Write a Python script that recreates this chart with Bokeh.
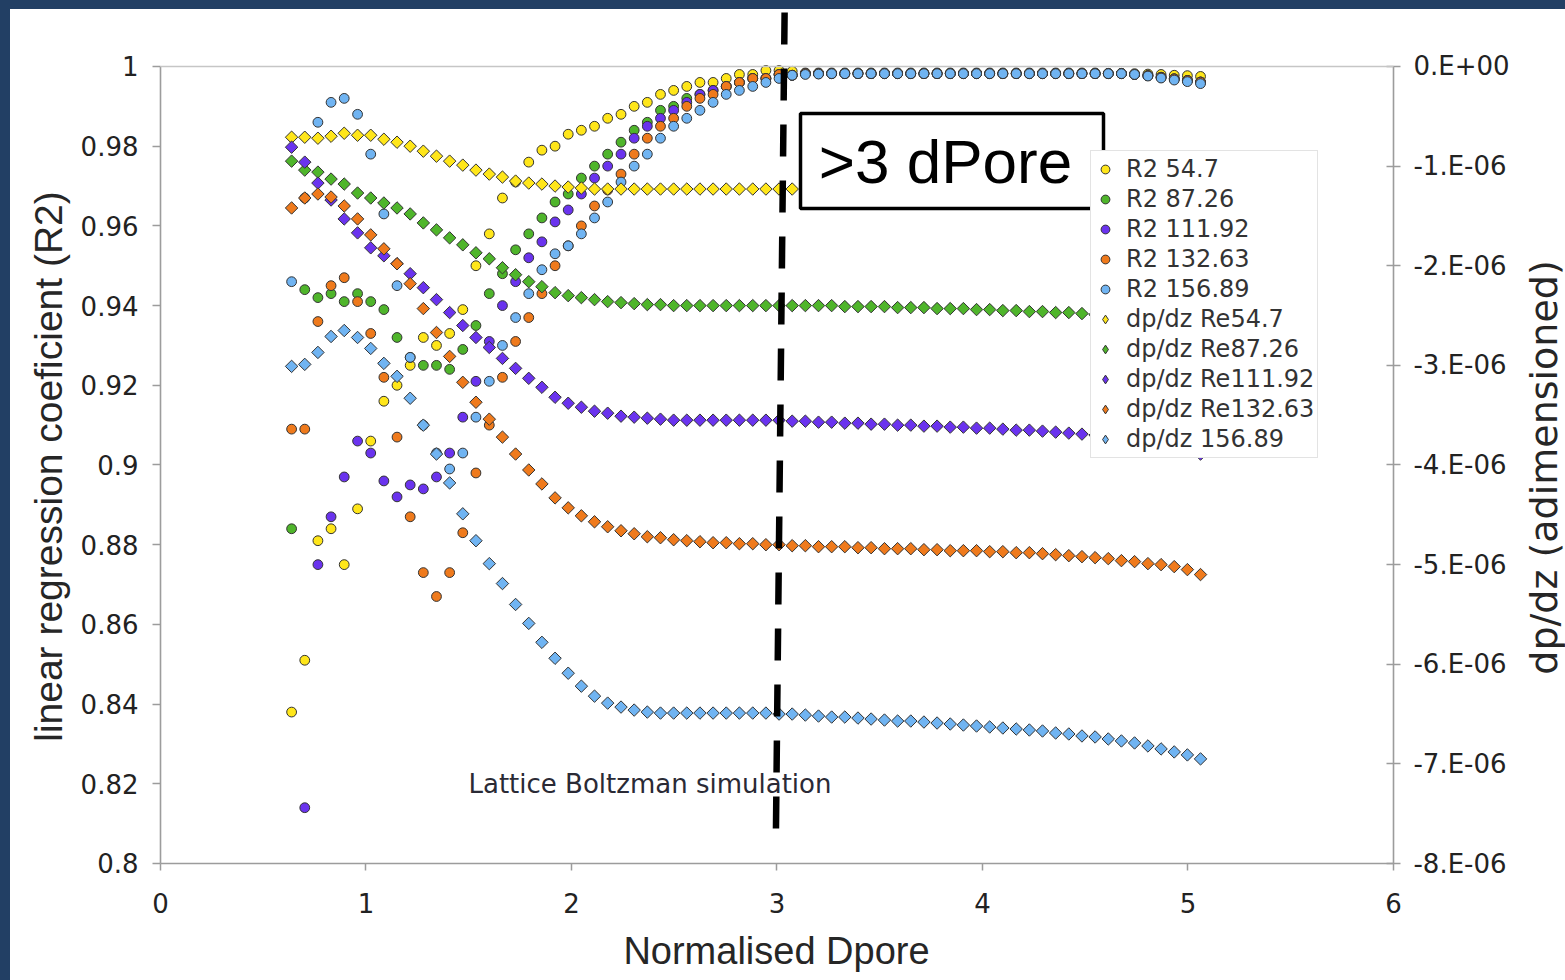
import numpy as np
from bokeh.plotting import figure
from bokeh.models import (Range1d, LinearAxis, FixedTicker, CustomJSTickFormatter,
                          Legend, LegendItem, Label, BoxAnnotation, Arrow, Spacer)
from bokeh.layouts import column, row
from bokeh.embed import file_html
from bokeh.resources import INLINE

nan = float("nan")

# ---------------- data ----------------
x_dpore = [0.638, 0.702, 0.766, 0.830, 0.894, 0.959, 1.023, 1.087, 1.151, 1.215,
           1.279, 1.343, 1.407, 1.471, 1.535, 1.600, 1.664, 1.728, 1.792, 1.856,
           1.920, 1.984, 2.048, 2.112, 2.176, 2.241, 2.305, 2.369, 2.433, 2.497,
           2.561, 2.625, 2.689, 2.753, 2.817, 2.882, 2.946, 3.010, 3.074, 3.138,
           3.202, 3.266, 3.330, 3.394, 3.458, 3.523, 3.587, 3.651, 3.715, 3.779,
           3.843, 3.907, 3.971, 4.035, 4.099, 4.164, 4.228, 4.292, 4.356, 4.420,
           4.484, 4.548, 4.612, 4.676, 4.740, 4.805, 4.869, 4.933, 4.997, 5.061]

# linear regression coefficient (left axis)
r2_re54_7 = [0.838, 0.851, 0.881, 0.884, 0.875, 0.889, 0.906, 0.916, 0.920, 0.925,
             0.932, 0.930, 0.933, 0.939, 0.950, 0.958, 0.967, 0.971, 0.976, 0.979,
             0.980, 0.983, 0.984, 0.985, 0.987, 0.988, 0.990, 0.991, 0.993, 0.994,
             0.995, 0.996, 0.996, 0.997, 0.998, 0.998, 0.999, 0.999, 0.9988, 0.9984,
             0.9984, 0.9984, 0.9984, 0.9984, 0.9984, 0.9984, 0.9984, 0.9984, 0.9984, 0.9984,
             0.9984, 0.9984, 0.9984, 0.9984, 0.9984, 0.9984, 0.9984, 0.9984, 0.9984, 0.9984,
             0.9984, 0.9984, 0.9983, 0.9983, 0.9982, 0.9981, 0.9980, 0.9978, 0.9977, 0.9975]
r2_re87_26 = [0.884, 0.944, 0.942, 0.943, 0.941, 0.943, 0.941, 0.939, 0.932, 0.927,
              0.925, 0.925, 0.924, 0.929, 0.935, 0.943, 0.948, 0.954, 0.958, 0.962,
              0.966, 0.968, 0.972, 0.975, 0.978, 0.981, 0.984, 0.986, 0.989, 0.990,
              0.992, 0.993, 0.994, 0.995, 0.996, 0.997, 0.997, 0.998, 0.9978, 0.9982,
              0.9982, 0.9982, 0.9982, 0.9982, 0.9982, 0.9982, 0.9982, 0.9982, 0.9982, 0.9982,
              0.9982, 0.9982, 0.9982, 0.9982, 0.9982, 0.9982, 0.9982, 0.9982, 0.9982, 0.9982,
              0.9982, 0.9982, 0.9982, 0.9982, 0.9980, 0.9977, 0.9973, 0.9969, 0.9965, 0.9961]
r2_re111_92 = [nan, 0.814, 0.875, 0.887, 0.897, 0.906, 0.903, 0.896, 0.892, 0.895,
               0.894, 0.897, 0.903, 0.912, 0.921, 0.931, 0.940, 0.946, 0.952, 0.956,
               0.961, 0.964, 0.968, 0.972, 0.975, 0.978, 0.982, 0.985, 0.987, 0.989,
               0.991, 0.993, 0.994, 0.995, 0.996, 0.997, 0.997, 0.998, 0.9978, 0.9982,
               0.9982, 0.9982, 0.9982, 0.9982, 0.9982, 0.9982, 0.9982, 0.9982, 0.9982, 0.9982,
               0.9982, 0.9982, 0.9982, 0.9982, 0.9982, 0.9982, 0.9982, 0.9982, 0.9982, 0.9982,
               0.9982, 0.9982, 0.9982, 0.9982, 0.9980, 0.9977, 0.9973, 0.9969, 0.9965, 0.9961]
r2_re132_63 = [0.909, 0.909, 0.936, 0.945, 0.947, 0.941, 0.933, 0.922, 0.907, 0.887,
               0.873, 0.867, 0.873, 0.883, 0.898, 0.910, 0.922, 0.931, 0.937, 0.943,
               0.950, 0.955, 0.960, 0.965, 0.969, 0.973, 0.978, 0.982, 0.985, 0.987,
               0.990, 0.992, 0.993, 0.995, 0.996, 0.997, 0.997, 0.998, 0.9978, 0.9982,
               0.9982, 0.9982, 0.9982, 0.9982, 0.9982, 0.9982, 0.9982, 0.9982, 0.9982, 0.9982,
               0.9982, 0.9982, 0.9982, 0.9982, 0.9982, 0.9982, 0.9982, 0.9982, 0.9982, 0.9982,
               0.9982, 0.9982, 0.9982, 0.9982, 0.9980, 0.9977, 0.9973, 0.9969, 0.9965, 0.9961]
r2_re156_89 = [0.946, 0.967, 0.986, 0.991, 0.992, 0.988, 0.978, 0.963, 0.945, 0.927,
               0.910, 0.903, 0.899, 0.903, 0.912, 0.921, 0.930, 0.937, 0.943, 0.949,
               0.953, 0.955, 0.958, 0.962, 0.966, 0.971, 0.975, 0.978, 0.982, 0.985,
               0.987, 0.989, 0.991, 0.993, 0.994, 0.995, 0.996, 0.997, 0.9978, 0.9980,
               0.9981, 0.9982, 0.9982, 0.9982, 0.9982, 0.9982, 0.9982, 0.9982, 0.9982, 0.9982,
               0.9982, 0.9982, 0.9982, 0.9982, 0.9982, 0.9982, 0.9982, 0.9982, 0.9982, 0.9982,
               0.9982, 0.9982, 0.9982, 0.9982, 0.9980, 0.9976, 0.9971, 0.9966, 0.9962, 0.9957]

# dp/dz (right axis), in units of 1e-6
dpdz_re54_7 = [-0.71, -0.71, -0.72, -0.70, -0.67, -0.69, -0.69, -0.73, -0.76, -0.80,
               -0.85, -0.90, -0.95, -0.99, -1.04, -1.08, -1.11, -1.15, -1.17, -1.18,
               -1.20, -1.21, -1.22, -1.23, -1.23, -1.23, -1.23, -1.23, -1.23, -1.23,
               -1.23, -1.23, -1.23, -1.23, -1.23, -1.23, -1.23, -1.23, -1.23, -1.23,
               -1.23, -1.23, -1.23, -1.23, -1.24, -1.24, -1.24, -1.24, -1.24, -1.24,
               -1.24, -1.25, -1.25, -1.25, -1.25, -1.25, -1.26, -1.26, -1.26, -1.26,
               -1.27, -1.27, -1.28, -1.28, -1.29, -1.30, -1.31, -1.32, -1.33, -1.35]
dpdz_re87_26 = [-0.95, -1.04, -1.06, -1.13, -1.18, -1.27, -1.32, -1.37, -1.42, -1.48,
                -1.57, -1.64, -1.72, -1.79, -1.87, -1.93, -2.02, -2.09, -2.16, -2.21,
                -2.27, -2.30, -2.32, -2.34, -2.36, -2.37, -2.38, -2.39, -2.39, -2.40,
                -2.40, -2.40, -2.40, -2.40, -2.40, -2.40, -2.40, -2.40, -2.40, -2.40,
                -2.40, -2.40, -2.41, -2.41, -2.41, -2.41, -2.42, -2.42, -2.42, -2.43,
                -2.43, -2.43, -2.44, -2.44, -2.45, -2.45, -2.46, -2.46, -2.47, -2.47,
                -2.48, -2.49, -2.50, -2.51, -2.52, -2.54, -2.56, -2.58, -2.60, -2.63]
dpdz_re111_92 = [-0.81, -0.96, -1.17, -1.34, -1.53, -1.67, -1.82, -1.90, -1.98, -2.08,
                 -2.22, -2.34, -2.47, -2.60, -2.72, -2.82, -2.93, -3.03, -3.13, -3.22,
                 -3.32, -3.38, -3.42, -3.46, -3.48, -3.51, -3.52, -3.53, -3.54, -3.55,
                 -3.55, -3.55, -3.55, -3.55, -3.55, -3.55, -3.55, -3.55, -3.56, -3.56,
                 -3.57, -3.57, -3.58, -3.58, -3.59, -3.59, -3.60, -3.60, -3.61, -3.61,
                 -3.62, -3.62, -3.63, -3.63, -3.64, -3.65, -3.65, -3.66, -3.67, -3.68,
                 -3.69, -3.70, -3.71, -3.73, -3.75, -3.77, -3.79, -3.82, -3.85, -3.89]
dpdz_re132_63 = [-1.42, -1.32, -1.28, -1.31, -1.40, -1.53, -1.69, -1.83, -1.98, -2.18,
                 -2.43, -2.67, -2.91, -3.17, -3.37, -3.54, -3.72, -3.89, -4.05, -4.19,
                 -4.33, -4.43, -4.51, -4.57, -4.62, -4.66, -4.69, -4.72, -4.73, -4.75,
                 -4.76, -4.77, -4.78, -4.78, -4.79, -4.79, -4.80, -4.80, -4.81, -4.81,
                 -4.82, -4.82, -4.82, -4.83, -4.83, -4.84, -4.84, -4.84, -4.85, -4.85,
                 -4.86, -4.86, -4.86, -4.87, -4.87, -4.88, -4.88, -4.89, -4.90, -4.91,
                 -4.92, -4.93, -4.94, -4.96, -4.97, -4.99, -5.00, -5.02, -5.05, -5.10]
dpdz_re156_89 = [-3.01, -2.99, -2.87, -2.71, -2.65, -2.72, -2.83, -2.98, -3.11, -3.33,
                 -3.60, -3.89, -4.18, -4.49, -4.76, -4.99, -5.19, -5.40, -5.59, -5.78,
                 -5.94, -6.09, -6.22, -6.32, -6.39, -6.43, -6.46, -6.48, -6.49, -6.49,
                 -6.49, -6.49, -6.49, -6.49, -6.49, -6.49, -6.49, -6.50, -6.50, -6.51,
                 -6.52, -6.53, -6.53, -6.54, -6.55, -6.56, -6.57, -6.57, -6.58, -6.59,
                 -6.60, -6.61, -6.62, -6.63, -6.64, -6.65, -6.66, -6.67, -6.69, -6.70,
                 -6.72, -6.73, -6.75, -6.77, -6.79, -6.82, -6.85, -6.88, -6.91, -6.95]

r2_labels = ["R2 54.7", "R2 87.26", "R2 111.92", "R2 132.63", "R2 156.89"]
dpdz_labels = ["dp/dz Re54.7", "dp/dz Re87.26", "dp/dz Re111.92", "dp/dz Re132.63", "dp/dz 156.89"]
series_colors = ["#FFE61A", "#4FB52B", "#6A33EE", "#EF7A1C", "#70B4F2"]

x_ticks = [0, 1, 2, 3, 4, 5, 6]
r2_ticks = [0.8, 0.82, 0.84, 0.86, 0.88, 0.9, 0.92, 0.94, 0.96, 0.98, 1.0]
dpdz_ticks = [-8e-6, -7e-6, -6e-6, -5e-6, -4e-6, -3e-6, -2e-6, -1e-6, 0.0]
threshold_dpore = 3.0

# ---------------- figure ----------------
# The frame covers the whole white slide area; all three axes are pinned at the ends of the
# value ranges, so the dashed marker can pass above the axes and no tick label or title is
# clipped by the frame.
X_MIN, X_MAX = 0.0, 6.0
X_LOW, X_EDGE = -0.72993, 6.837
R2_MIN, R2_MAX = 0.8, 1.0
R2_LOW, R2_TOP = 0.77064, 1.01405
DP_MIN, DP_MAX = -8e-6, 0.0
DP_LOW, DP_TOP = -9.1744e-6, 0.5621e-6
W, H = 1555, 971
p = figure(width=W, height=H, x_range=Range1d(X_LOW, X_EDGE), y_range=Range1d(R2_LOW, R2_TOP),
           output_backend="svg", toolbar_location=None, title=None,
           min_border_left=0, min_border_right=0, min_border_top=1, min_border_bottom=0)
p.xgrid.visible = False
p.ygrid.visible = False
p.background_fill_color = "white"
p.border_fill_color = "white"
p.outline_line_color = None
p.extra_y_ranges = {"dpdz": Range1d(DP_LOW, DP_TOP)}

p.xaxis[0].fixed_location = R2_MIN
p.yaxis[0].fixed_location = X_MIN
right_axis = LinearAxis(y_range_name="dpdz", fixed_location=X_MAX)
p.add_layout(right_axis, "right")

axis_grey = "#9c9c9c"
tick_font = "DejaVu Sans"
title_color = "#262626"
for ax in [p.xaxis[0], p.yaxis[0], right_axis]:
    ax.axis_line_color = None
    ax.major_tick_line_color = axis_grey
    ax.major_tick_line_width = 1.5
    ax.minor_tick_line_color = None
    ax.major_label_text_font = tick_font
    ax.major_label_text_font_size = "26px"
    ax.major_label_text_color = "#222222"

p.xaxis.ticker = FixedTicker(ticks=x_ticks)
p.xaxis.formatter = CustomJSTickFormatter(code="return tick.toFixed(0);")
p.xaxis.major_tick_out = 7
p.xaxis.major_tick_in = 0
p.xaxis.major_label_standoff = 23

p.yaxis[0].ticker = FixedTicker(ticks=r2_ticks)
p.yaxis[0].formatter = CustomJSTickFormatter(code="return String(parseFloat(tick.toFixed(2)));")
p.yaxis[0].major_tick_out = 8
p.yaxis[0].major_tick_in = 0
p.yaxis[0].major_label_standoff = 14

right_axis.ticker = FixedTicker(ticks=dpdz_ticks)
right_axis.formatter = CustomJSTickFormatter(
    code="const n = Math.round(-tick*1e6); return n == 0 ? '0.E+00' : '-' + n + '.E-06';")
right_axis.major_tick_out = 7
right_axis.major_tick_in = 7
right_axis.major_label_standoff = 13

# axis titles
p.add_layout(Label(x=38, y=514, x_units="screen", y_units="screen",
                   text="linear regression coeficient (R2)", angle=np.pi / 2,
                   text_font="Liberation Sans", text_font_size="39px", text_color=title_color,
                   text_align="center", text_baseline="middle"))
p.add_layout(Label(x=766, y=30, x_units="screen", y_units="screen",
                   text="Normalised Dpore", text_font="Liberation Sans",
                   text_font_size="38px", text_color=title_color,
                   text_align="center", text_baseline="middle"))
p.add_layout(Label(x=1533, y=513, x_units="screen", y_units="screen",
                   text="dp/dz (adimensioned)", angle=np.pi / 2,
                   text_font="DejaVu Sans", text_font_size="38px", text_color=title_color,
                   text_align="center", text_baseline="middle"))

# plot-area border lines, limited to the value ranges
for xs, ys, xe, ye, col in [(X_MIN, R2_MIN, X_MAX, R2_MIN, axis_grey),
                            (X_MIN, R2_MIN, X_MIN, R2_MAX, axis_grey),
                            (X_MAX, R2_MIN, X_MAX, R2_MAX, axis_grey),
                            (X_MIN, R2_MAX, X_MAX, R2_MAX, "#c6c6c6")]:
    p.add_layout(Arrow(end=None, x_start=xs, y_start=ys, x_end=xe, y_end=ye,
                       line_color=col, line_width=1.6))

outline = "#333333"
r2_series = [r2_re54_7, r2_re87_26, r2_re111_92, r2_re132_63, r2_re156_89]
dpdz_series = [dpdz_re54_7, dpdz_re87_26, dpdz_re111_92, dpdz_re132_63, dpdz_re156_89]

circle_renderers = []
for ys, c in zip(r2_series, series_colors):
    circle_renderers.append(p.scatter(x_dpore, ys, marker="circle", size=9.8, fill_color=c,
                                      line_color=outline, line_width=1))
for ys, c in zip(dpdz_series, series_colors):
    p.scatter(x_dpore, [v * 1e-6 for v in ys], marker="square", angle=np.pi / 4, size=8.8,
              fill_color=c, line_color=outline, line_width=1, y_range_name="dpdz")

# legend proxies for the diamond series (legend glyphs ignore marker rotation)
diamond_proxies = []
for ys, c in zip(dpdz_series, series_colors):
    diamond_proxies.append(p.scatter(x_dpore[:1], [ys[0] * 1e-6], marker="diamond", size=12,
                                     fill_color=c, line_color=outline, line_width=1,
                                     y_range_name="dpdz", visible=False))

# annotation text inside the plot
p.add_layout(Label(x=458, y=197, x_units="screen", y_units="screen",
                   text="Lattice Boltzman simulation", text_font="DejaVu Sans",
                   text_font_size="26px", text_color="#2a2a35", text_baseline="middle"))

# vertical dashed marker at 3 dPore
p.add_layout(Arrow(end=None, x_start=threshold_dpore - 0.005, y_start=0.8088,
                   x_end=threshold_dpore + 0.037, y_end=R2_TOP - 0.0005,
                   line_color="black", line_width=6.5, line_dash="32 24"))

# legend
items = [LegendItem(label=l, renderers=[r]) for l, r in zip(r2_labels, circle_renderers)]
items += [LegendItem(label=l, renderers=[r]) for l, r in zip(dpdz_labels, diamond_proxies)]
legend = Legend(items=items, location=(1080, 522), padding=3, spacing=0, margin=0,
                glyph_width=22, glyph_height=30, label_height=30, label_standoff=10,
                label_text_font="DejaVu Sans", label_text_font_size="24px",
                label_text_color="#333333", border_line_color="#c8c8c8",
                border_line_width=1.5, background_fill_color="white", background_fill_alpha=1.0)
p.add_layout(legend)

# ">3 dPore" call-out box (drawn over the legend corner)
p.add_layout(BoxAnnotation(left=790, right=1093, bottom=772, top=867,
                           left_units="screen", right_units="screen",
                           bottom_units="screen", top_units="screen",
                           fill_color="white", fill_alpha=1.0,
                           line_color="black", line_alpha=1.0, line_width=3.5))
p.add_layout(Label(x=935, y=819, x_units="screen", y_units="screen", text=">3 dPore",
                   text_font="Liberation Sans", text_font_size="62px", text_color="black",
                   text_align="center", text_baseline="middle"))

# dark slide frame around the chart
frame_bg = "#223f64"
top_bar = Spacer(width=1565, height=9, styles={"background-color": frame_bg})
left_bar = Spacer(width=10, height=H, styles={"background-color": frame_bg})
layout = column(top_bar, row(left_bar, p, spacing=0), spacing=0)

open("out.html", "w").write(file_html(layout, INLINE))
